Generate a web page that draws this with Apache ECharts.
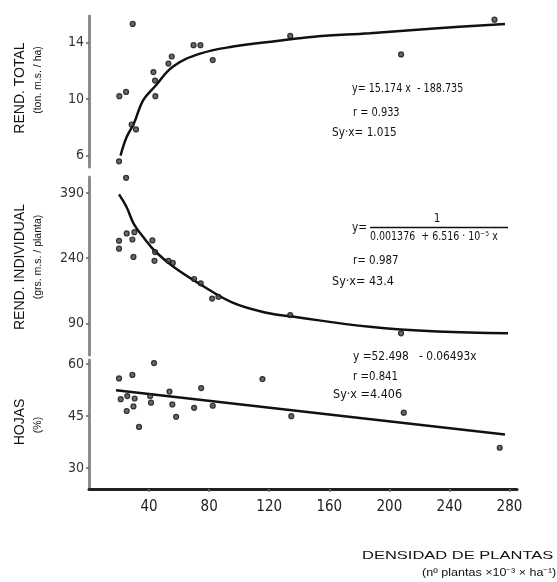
<!DOCTYPE html>
<html><head><meta charset="utf-8">
<script src="https://cdn.jsdelivr.net/npm/echarts@6/dist/echarts.min.js"></script>
<style>html,body{margin:0;padding:0;background:#fff}#c{width:557px;height:582px}</style>
</head><body><div id="c"></div>
<script>
// ---- tick labels ----
const xTicks = [40, 80, 120, 160, 200, 240, 280];
const totalTicks = [6, 10, 14];
const indivTicks = [90, 240, 390];
const hojasTicks = [30, 45, 60];

// ---- REND. TOTAL (ton m.s./ha) ----
const totalPoints = [[20,5.6],[20.2,10.2],[24.7,10.5],[29.1,15.3],[28.4,8.2],[31.3,7.85],[42.9,11.9],[44,11.3],[44.2,10.2],[52.9,12.5],[55.1,13.0],[69.6,13.8],[74.2,13.8],[82.4,12.75],[134,14.45],[207.8,13.15],[270,15.6]];
const totalCurve = [[21,6.0],[25,7.3],[30,8.3],[36,9.9],[44,10.9],[56,12.3],[74,13.2],[96,13.7],[125,14.1],[150,14.4],[187,14.65],[232,15.0],[277,15.3]];

// ---- REND. INDIVIDUAL (grs m.s./planta) ----
const indivPoints = [[24.7,425],[20,280],[20,262],[25.1,297],[28.9,283],[30.2,300],[29.6,243],[42.2,281],[44,254],[43.6,234],[52.9,234],[55.8,229],[70,192],[74.4,182],[82,147],[86.2,151],[134,109],[207.8,67]];
const indivCurve = [[20,387],[25,358],[30,318],[37,285],[44,256],[56,221],[74,180],[96,137],[120,113],[134,106],[187,82],[232,71],[279,67]];

// ---- HOJAS (%) ----
const hojasPoints = [[20,55.9],[28.9,56.9],[43.3,60.3],[21.1,49.9],[25.5,50.8],[30.4,50.1],[25.1,46.5],[29.6,47.8],[33.3,41.9],[40.7,50.8],[41.3,48.9],[53.6,52.1],[55.5,48.4],[58,44.8],[70,47.4],[74.7,53.1],[82.4,48],[115.5,55.7],[134.7,45],[209.6,46],[273.5,35.9]];
const hojasLine = [[18,52.5],[277,39.7]];

const NUMFONT = "'Liberation Sans Narrow','DejaVu Sans Condensed',sans-serif";
const SANS = "'Liberation Sans',Arial,sans-serif";

const chart = echarts.init(document.getElementById('c'), null, {renderer:'canvas'});

function yAx(gi, min, max, ticks){
  return {
    gridIndex: gi, type: 'value', min: min, max: max,
    splitLine: {show:false},
    axisLine: {show:true, lineStyle:{color:'#8c8c8c', width:3}},
    axisTick: {show:true, length:3, customValues: ticks, lineStyle:{color:'#666', width:1.5}},
    axisLabel: {customValues: ticks, color:'#333', fontFamily: NUMFONT, fontSize: 14, margin: 5}
  };
}
function xAx(gi, show){
  return {
    gridIndex: gi, type:'value', min:0, max:285, show: show,
    splitLine:{show:false},
    axisLine:{show:true, onZero:false, lineStyle:{color:'#222', width:3}},
    axisTick:{show:true, length:3, customValues: xTicks, lineStyle:{color:'#777', width:1.5}},
    axisLabel:{customValues: xTicks, color:'#222', fontFamily: NUMFONT, fontSize: 15, margin: 11}
  };
}
const ptStyle = {color:'#444', borderColor:'#111', borderWidth:1.2};
function scat(i, data){
  return {type:'scatter', xAxisIndex:i, yAxisIndex:i, data:data, symbol:'circle', symbolSize:5, itemStyle: ptStyle, z:3};
}
function curve(i, data){
  return {type:'line', xAxisIndex:i, yAxisIndex:i, data:data, smooth:0.4, showSymbol:false, lineStyle:{color:'#111', width:2.5}, z:2};
}

function txt(x, y, text, font, sx, align){
  return {type:'text', x:x, y:y, scaleX: sx || 1, style:{text:text, font:font, fill:'#111', textAlign: align||'left', textVerticalAlign:'middle'}};
}
function vtxt(x, y, text, font){
  return {type:'text', x:x, y:y, rotation:Math.PI/2, style:{text:text, font:font, fill:'#111', textAlign:'center', textVerticalAlign:'middle'}};
}
const EQ = "13px " + NUMFONT;

chart.setOption({
  animation:false,
  grid:[
    {left:89, width:428, top:16, height:151},
    {left:89, width:428, top:177, height:178},
    {left:89, width:428, top:360, height:129}
  ],
  xAxis:[xAx(0,false), xAx(1,false), xAx(2,true)],
  yAxis:[yAx(0,5.2,15.86,totalTicks), yAx(1,17,427,indivTicks), yAx(2,24,61.2,hojasTicks)],
  series:[
    curve(0,totalCurve), scat(0,totalPoints),
    curve(1,indivCurve), scat(1,indivPoints),
    curve(2,hojasLine), scat(2,hojasPoints)
  ],
  graphic:[
    vtxt(20, 88, 'REND. TOTAL', '14px ' + SANS),
    vtxt(38, 80, '(ton. m.s. / ha)', '10.5px ' + SANS),
    vtxt(20, 267, 'REND. INDIVIDUAL', '14px ' + SANS),
    vtxt(38, 257, '(grs. m.s. / planta)', '10.5px ' + SANS),
    vtxt(20, 422, 'HOJAS', '14px ' + SANS),
    vtxt(38, 425, '(%)', '10.5px ' + SANS),

    txt(352, 89, 'y= 15.174 x  - 188.735', EQ, 0.82),
    txt(353, 113, 'r = 0.933', EQ, 0.84),
    txt(332, 133, 'Sy·x= 1.015', EQ, 0.9),

    txt(352, 228, 'y=', EQ, 0.9),
    txt(437, 219, '1', EQ, 0.9, 'center'),
    {type:'line', shape:{x1:370, y1:227.5, x2:508, y2:227.5}, style:{stroke:'#111', lineWidth:1.3}},
    txt(370, 237, '0.001376  + 6.516 · 10⁻⁵ x', EQ, 0.81),
    txt(353, 261, 'r= 0.987', EQ, 0.88),
    txt(332, 282, 'Sy·x= 43.4', EQ, 0.96),

    txt(353, 357, 'y =52.498   - 0.06493x', EQ, 0.91),
    txt(353, 377, 'r =0.841', EQ, 0.87),
    txt(333, 395, 'Sy·x =4.406', EQ, 0.96),

    {type:'text', x:362, y:556, scaleX:1.5, style:{text:'DENSIDAD DE PLANTAS', font:'11px ' + SANS, fill:'#111', textAlign:'left', textVerticalAlign:'middle'}},
    {type:'text', x:422, y:573, scaleX:1.14, style:{text:'(nº plantas ×10⁻³ × ha⁻¹)', font:'11px ' + SANS, fill:'#111', textAlign:'left', textVerticalAlign:'middle'}}
  ]
});
</script>
</body></html>
